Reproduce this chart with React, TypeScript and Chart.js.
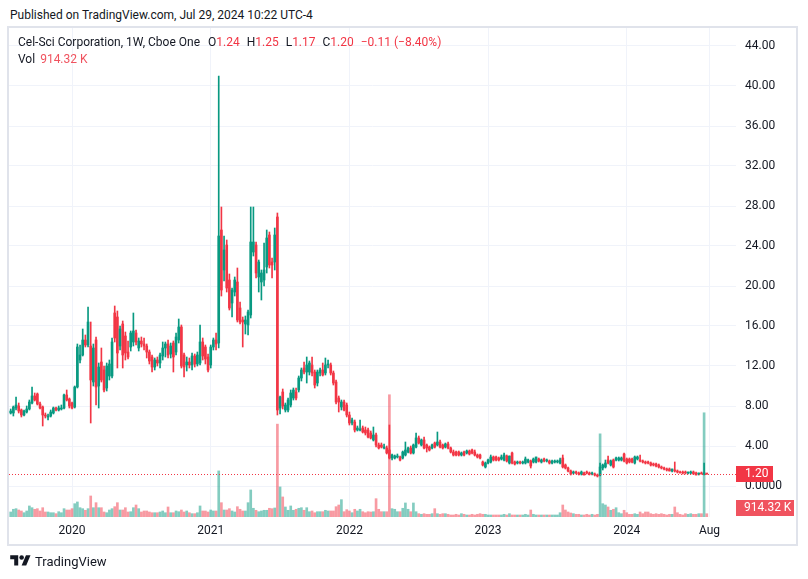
import React, { useEffect, useRef } from "react";
import { Chart, registerables } from "chart.js";

Chart.register(...registerables);

// Weekly bars, first bar = week of 2019-07-29, last bar = week of 2024-07-29
const firstWeek = "2019-07-29";

const opens = [
  7.3, 7.3, 7.8, 8.0, 7.6, 7.1, 7.4, 7.7, 8.3, 9.0,
  9.2, 8.2, 7.9, 7.1, 7.0, 7.0, 7.3, 7.8, 7.6, 7.8,
  7.8, 9.1, 8.7, 8.3, 7.9, 9.9, 12.6, 13.1, 14.6, 14.1,
  14.0, 10.4, 14.6, 10.0, 12.4, 11.6, 9.8, 11.0, 11.0, 17.3,
  16.9, 14.0, 16.2, 15.0, 13.4, 13.9, 14.4, 15.3, 13.8, 14.5,
  14.2, 14.0, 13.4, 12.9, 11.9, 12.6, 12.3, 13.0, 13.8, 14.2,
  13.2, 14.3, 13.4, 14.6, 15.9, 13.1, 12.1, 12.4, 12.1, 13.0,
  12.2, 12.3, 14.4, 13.9, 12.9, 12.1, 13.9, 14.6, 14.3, 25.6,
  21.6, 24.1, 20.6, 18.3, 19.4, 20.4, 17.8, 16.6, 16.2, 16.1,
  17.1, 23.4, 24.1, 20.9, 20.4, 20.6, 21.9, 25.1, 22.4, 22.4,
  26.9, 7.8, 9.4, 7.6, 7.6, 8.1, 8.8, 9.4, 9.6, 10.8,
  11.8, 11.4, 11.4, 12.1, 11.4, 10.3, 11.3, 11.6, 11.3, 12.1,
  12.1, 11.3, 10.4, 8.8, 7.9, 8.4, 8.1, 7.1, 6.3, 6.4,
  5.6, 5.6, 5.8, 5.6, 5.6, 5.3, 4.6, 5.1, 4.1, 4.1,
  3.8, 3.8, 3.6, 2.8, 2.8, 2.9, 2.9, 2.8, 3.1, 3.4,
  3.8, 3.3, 3.9, 4.8, 4.1, 4.6, 4.1, 3.9, 3.8, 4.3,
  4.1, 4.4, 4.1, 3.9, 4.2, 3.8, 3.4, 3.4, 3.4, 3.1,
  3.4, 3.3, 3.5, 3.6, 3.4, 3.1, 3.1, 2.4, 1.9, 2.3,
  2.4, 2.9, 2.9, 2.8, 2.7, 2.6, 3.0, 2.3, 3.3, 2.4,
  2.3, 2.4, 2.3, 2.3, 2.4, 2.5, 2.4, 2.4, 2.7, 2.4,
  2.7, 2.5, 2.5, 2.3, 2.4, 2.4, 2.3, 2.8, 2.1, 1.8,
  1.5, 1.3, 1.4, 1.3, 1.2, 1.3, 1.4, 1.3, 1.2, 1.2,
  1.1, 1.1, 1.8, 1.9, 2.6, 2.1, 2.6, 2.6, 2.6, 2.6,
  3.2, 2.7, 2.7, 2.7, 2.3, 2.7, 2.6, 2.5, 2.4, 2.4,
  2.3, 2.2, 2.2, 2.1, 1.9, 1.8, 1.7, 1.7, 1.5, 1.6,
  1.5, 1.4, 1.4, 1.4, 1.3, 1.3, 1.4, 1.3, 1.2, 1.3,
  1.2, 1.24,
];

const highs = [
  7.7, 8.0, 8.9, 8.3, 7.7, 7.6, 8.0, 8.6, 9.9, 9.3,
  9.3, 8.4, 8.0, 7.3, 7.2, 7.6, 7.9, 7.9, 8.0, 8.1,
  9.2, 9.6, 8.8, 8.4, 10.0, 14.2, 14.1, 15.7, 15.1, 17.9,
  16.4, 14.2, 14.9, 12.3, 13.8, 12.0, 12.3, 12.6, 14.8, 18.0,
  17.5, 16.0, 16.5, 15.4, 14.5, 15.5, 17.3, 15.6, 14.8, 14.9,
  14.8, 14.2, 13.6, 13.1, 12.8, 12.9, 13.3, 14.4, 14.4, 14.6,
  14.3, 14.5, 15.3, 16.7, 16.1, 13.3, 12.9, 12.8, 13.3, 13.2,
  13.4, 16.1, 14.8, 14.1, 13.2, 14.1, 14.8, 15.3, 41.0, 27.9,
  25.0, 24.6, 21.2, 19.8, 20.9, 21.8, 18.4, 16.9, 17.0, 17.6,
  27.9, 27.9, 24.4, 22.6, 21.6, 24.3, 25.6, 25.4, 22.8, 25.8,
  27.3, 9.0, 9.7, 8.3, 8.8, 9.6, 9.8, 9.8, 11.0, 11.8,
  12.4, 12.9, 12.5, 12.9, 11.6, 11.6, 11.8, 12.3, 12.8, 12.6,
  12.3, 11.5, 10.6, 9.0, 8.6, 8.6, 8.3, 7.4, 6.8, 6.6,
  6.0, 6.6, 6.0, 5.9, 5.8, 5.5, 5.9, 5.3, 4.3, 4.3,
  4.2, 4.0, 6.1, 3.2, 3.1, 3.2, 3.0, 3.5, 4.4, 3.9,
  4.0, 4.2, 5.3, 5.0, 4.7, 4.9, 4.2, 4.0, 4.2, 4.4,
  5.4, 4.6, 4.2, 4.3, 4.4, 3.9, 3.6, 3.5, 3.5, 3.4,
  3.5, 3.6, 3.6, 3.7, 3.6, 3.2, 3.2, 2.5, 2.4, 2.7,
  3.1, 3.0, 3.0, 2.9, 3.1, 3.3, 3.1, 3.0, 3.4, 2.5,
  2.5, 2.5, 2.5, 2.9, 2.7, 2.6, 2.8, 2.9, 2.8, 2.7,
  2.8, 2.7, 2.6, 2.6, 2.6, 2.6, 2.8, 3.1, 2.2, 1.9,
  1.6, 1.5, 1.5, 1.4, 1.5, 1.4, 1.5, 1.4, 1.4, 1.3,
  1.2, 2.3, 2.2, 2.6, 3.0, 2.6, 2.7, 2.9, 2.9, 2.9,
  3.3, 2.8, 2.8, 2.8, 3.0, 3.0, 3.1, 2.6, 2.5, 2.5,
  2.4, 2.3, 2.3, 2.2, 2.0, 1.9, 1.8, 1.8, 1.7, 2.4,
  1.6, 1.5, 1.5, 1.5, 1.4, 1.5, 1.5, 1.4, 1.3, 1.4,
  2.3, 1.25,
];

const lows = [
  7.2, 7.0, 7.6, 7.3, 6.9, 7.0, 7.3, 7.6, 8.2, 8.5,
  8.1, 7.7, 6.0, 6.8, 6.6, 6.9, 7.2, 7.5, 7.5, 7.6,
  7.7, 8.5, 7.8, 7.7, 7.8, 9.8, 12.3, 13.0, 13.9, 13.9,
  6.3, 10.0, 8.1, 7.8, 10.4, 9.4, 9.5, 10.6, 10.8, 14.4,
  11.8, 13.6, 11.8, 12.6, 12.7, 13.5, 14.0, 14.1, 13.5, 13.9,
  13.6, 12.8, 12.2, 11.4, 11.6, 12.0, 11.8, 12.6, 12.9, 12.8,
  12.8, 11.4, 13.1, 14.3, 11.8, 10.9, 11.5, 11.8, 11.6, 11.9,
  12.0, 12.1, 12.6, 12.2, 11.4, 11.8, 13.6, 13.6, 13.8, 19.0,
  20.5, 19.4, 17.6, 16.9, 19.0, 16.4, 16.2, 13.9, 15.2, 15.1,
  16.8, 23.0, 20.8, 19.4, 18.6, 20.0, 21.3, 21.8, 20.8, 21.6,
  7.1, 7.2, 7.7, 7.4, 7.4, 7.9, 8.6, 8.6, 9.4, 10.5,
  11.2, 10.3, 11.1, 11.0, 9.8, 10.0, 11.0, 11.0, 11.1, 11.8,
  11.1, 10.1, 8.2, 7.4, 7.6, 7.5, 6.9, 6.1, 6.1, 5.4,
  5.5, 5.5, 5.3, 5.1, 4.8, 4.7, 4.5, 3.9, 3.7, 3.8,
  3.7, 3.2, 2.7, 2.6, 2.7, 2.8, 2.5, 2.7, 3.0, 3.3,
  3.2, 3.2, 3.8, 4.2, 4.0, 3.7, 3.4, 3.5, 3.7, 3.8,
  4.0, 3.8, 3.7, 3.8, 3.7, 3.3, 3.0, 3.0, 3.0, 3.0,
  3.0, 3.2, 3.1, 3.2, 3.0, 2.8, 2.7, 2.0, 1.8, 2.2,
  2.3, 2.5, 2.5, 2.5, 2.6, 2.5, 2.4, 2.2, 2.2, 2.1,
  2.2, 2.2, 2.2, 2.2, 2.3, 1.8, 2.3, 2.3, 2.4, 2.3,
  2.4, 2.4, 2.2, 2.2, 2.3, 2.3, 2.2, 1.8, 1.7, 1.4,
  1.1, 1.2, 1.2, 1.1, 1.1, 1.1, 1.2, 1.1, 1.1, 1.0,
  0.9, 1.0, 1.6, 1.8, 2.2, 2.0, 1.8, 2.5, 2.5, 2.5,
  2.4, 2.2, 2.3, 2.3, 2.2, 2.6, 2.4, 2.3, 2.2, 2.2,
  2.0, 2.0, 1.9, 1.8, 1.7, 1.6, 1.5, 1.5, 1.4, 1.4,
  1.3, 1.3, 1.2, 1.2, 1.2, 1.2, 1.2, 1.1, 1.1, 1.2,
  1.1, 1.17,
];

const closes = [
  7.5, 7.9, 8.1, 7.5, 7.1, 7.5, 7.7, 8.4, 9.0, 8.6,
  8.2, 7.8, 7.1, 7.0, 7.0, 7.4, 7.8, 7.6, 7.8, 7.8,
  9.1, 8.6, 8.0, 7.8, 9.9, 13.9, 13.1, 14.6, 14.1, 16.4,
  10.6, 13.8, 9.9, 11.9, 10.6, 9.6, 12.0, 12.2, 14.4, 14.8,
  13.3, 15.7, 13.1, 13.3, 12.9, 15.3, 15.5, 14.4, 14.5, 14.2,
  14.0, 13.4, 12.5, 11.9, 12.6, 12.3, 13.1, 13.8, 14.2, 13.1,
  14.0, 12.9, 14.9, 15.9, 12.0, 11.9, 12.4, 12.1, 13.0, 12.2,
  13.1, 14.4, 13.0, 12.7, 11.6, 13.9, 14.6, 14.2, 25.0, 19.6,
  23.6, 19.8, 17.8, 19.6, 20.6, 16.6, 16.4, 16.4, 16.6, 17.4,
  24.4, 24.4, 21.3, 22.4, 21.3, 21.6, 24.8, 22.1, 22.1, 25.1,
  7.6, 8.9, 8.0, 8.1, 8.6, 9.3, 9.6, 8.8, 10.8, 11.6,
  11.4, 12.1, 12.3, 11.3, 10.1, 11.4, 11.6, 11.1, 12.1, 12.2,
  11.3, 10.3, 8.4, 8.4, 8.4, 7.6, 7.1, 6.3, 6.6, 5.6,
  5.8, 5.7, 5.4, 5.3, 4.9, 4.8, 5.1, 4.1, 3.8, 3.9,
  3.9, 3.3, 2.8, 3.1, 3.0, 3.0, 2.6, 3.4, 3.6, 3.8,
  3.3, 4.1, 4.8, 4.3, 4.6, 3.8, 3.8, 3.6, 4.1, 3.9,
  4.4, 3.9, 3.8, 4.2, 3.8, 3.4, 3.1, 3.1, 3.1, 3.3,
  3.1, 3.5, 3.2, 3.3, 3.1, 2.9, 2.8, 2.1, 2.3, 2.6,
  2.9, 2.6, 2.6, 2.6, 2.9, 3.1, 2.5, 3.0, 2.3, 2.2,
  2.4, 2.3, 2.4, 2.7, 2.6, 2.0, 2.7, 2.9, 2.5, 2.6,
  2.5, 2.6, 2.3, 2.5, 2.5, 2.5, 2.6, 1.9, 1.8, 1.5,
  1.2, 1.4, 1.3, 1.2, 1.4, 1.1, 1.3, 1.2, 1.3, 1.1,
  1.0, 1.9, 2.1, 2.3, 2.3, 2.5, 1.9, 2.8, 2.8, 2.8,
  2.5, 2.3, 2.4, 2.4, 2.9, 2.9, 2.5, 2.4, 2.3, 2.3,
  2.1, 2.1, 2.0, 1.9, 1.8, 1.7, 1.6, 1.5, 1.7, 1.5,
  1.4, 1.3, 1.3, 1.3, 1.4, 1.4, 1.2, 1.1, 1.3, 1.2,
  1.31, 1.20,
];

// weekly volume, millions of shares
const volumesM = [
  1.39, 2.14, 2.31, 1.94, 1.67, 1.19, 1.67, 3.06, 2.58, 2.14,
  2.31, 1.67, 2.58, 1.39, 1.39, 1.19, 1.19, 0.92, 1.47, 1.19,
  2.31, 1.94, 1.94, 2.31, 3.69, 4.17, 2.58, 2.31, 1.86, 2.31,
  5.83, 2.58, 3.97, 2.58, 2.58, 1.39, 1.19, 1.94, 2.31, 2.86,
  3.97, 1.94, 1.94, 2.58, 1.39, 1.47, 2.58, 3.33, 2.31, 1.39,
  1.67, 1.67, 1.39, 1.19, 1.19, 1.19, 1.39, 1.67, 1.19, 2.78,
  1.19, 1.19, 1.67, 1.47, 1.94, 1.39, 1.67, 1.19, 0.92, 0.92,
  1.19, 3.06, 1.67, 1.67, 1.39, 1.94, 1.67, 1.67, 12.78, 3.97,
  1.94, 1.94, 2.31, 1.67, 1.39, 2.86, 2.14, 1.67, 1.67, 3.97,
  7.5, 2.42, 1.86, 1.47, 1.67, 1.86, 1.86, 2.42, 2.31, 2.5,
  25.75, 8.33, 5.56, 2.78, 1.86, 3.06, 1.86, 2.14, 2.42, 2.58,
  1.86, 2.58, 1.47, 1.67, 1.19, 1.47, 1.47, 1.47, 1.86, 1.67,
  1.67, 1.67, 2.86, 3.33, 4.81, 1.47, 2.03, 1.67, 1.19, 2.14,
  1.67, 2.14, 1.47, 1.19, 1.47, 1.39, 1.47, 5.08, 2.14, 1.47,
  1.47, 1.47, 33.9, 2.31, 2.14, 1.47, 1.47, 2.42, 3.89, 2.14,
  1.47, 3.89, 1.47, 0.92, 0.75, 0.92, 0.75, 0.75, 0.92, 2.31,
  0.92, 0.75, 0.92, 0.92, 0.75, 0.56, 0.56, 0.75, 0.56, 0.92,
  0.75, 0.56, 0.56, 0.75, 0.56, 0.75, 0.92, 0.75, 0.75, 0.56,
  0.56, 0.56, 0.56, 0.56, 0.56, 0.75, 0.56, 0.92, 0.56, 0.56,
  0.56, 0.56, 0.56, 0.75, 0.56, 1.94, 0.75, 0.56, 0.56, 0.56,
  0.56, 0.56, 0.56, 0.56, 0.56, 0.56, 1.19, 3.33, 1.94, 1.39,
  1.11, 0.92, 0.75, 0.75, 0.56, 0.56, 0.75, 0.56, 0.75, 0.56,
  0.75, 23.06, 3.69, 3.33, 2.78, 1.86, 2.14, 2.58, 1.19, 0.92,
  1.86, 1.19, 0.75, 0.75, 0.92, 0.75, 1.39, 0.92, 1.39, 1.39,
  0.92, 0.75, 0.92, 0.75, 0.92, 0.75, 0.56, 0.75, 0.75, 2.78,
  1.19, 0.75, 0.56, 0.92, 0.75, 0.92, 0.75, 0.75, 0.92, 0.92,
  28.9, 0.91,
];

// time axis ticks: bar index of first weekly bar of each year, and "Aug"
const timeTickIndex = [23, 75, 127, 179, 231, 262];
const timeTickLabels = ["2020", "2021", "2022", "2023", "2024", "Aug"];
const priceTicks = [0, 4, 8, 12, 16, 20, 24, 28, 32, 36, 40, 44];

const lastPrice = 1.2;
const lastVolumeLabel = "914.32 K";

const UP = "#089981";
const DOWN = "#F23645";
const UP_VOL = "rgba(8,153,129,0.5)";
const DOWN_VOL = "rgba(242,54,69,0.5)";
const GRID = "#F0F3FA";
const TEXT = "#131722";
const FONT = "Roboto, 'Noto Sans', sans-serif";

export default function App() {
  const canvasRef = useRef<HTMLCanvasElement>(null);

  useEffect(() => {
    const idx = closes.map((_, i) => i);
    const up = idx.map((i) => closes[i] >= opens[i]);

    const overlay = {
      id: "overlay",
      afterDatasetsDraw(chart: any) {
        const { ctx, chartArea } = chart;
        const y = chart.scales.y;
        const py = Math.round(y.getPixelForValue(lastPrice)) + 0.5;
        ctx.save();
        ctx.strokeStyle = DOWN;
        ctx.lineWidth = 1;
        ctx.setLineDash([1, 2]);
        ctx.beginPath();
        ctx.moveTo(chartArea.left, py);
        ctx.lineTo(chartArea.right, py);
        ctx.stroke();
        ctx.restore();
      },
      afterDraw(chart: any) {
        const { ctx, chartArea } = chart;
        const y = chart.scales.y;
        const py = Math.round(y.getPixelForValue(lastPrice));
        ctx.save();
        ctx.fillStyle = DOWN;
        ctx.fillRect(chartArea.right, py - 8, 37, 16);
        ctx.fillStyle = "#ffffff";
        ctx.font = `12px ${FONT}`;
        ctx.textBaseline = "middle";
        ctx.textAlign = "left";
        ctx.fillText(lastPrice.toFixed(2), chartArea.right + 9, py);
        const vy = chartArea.bottom - 9;
        ctx.fillStyle = "#F0535F";
        ctx.fillRect(chartArea.right, vy - 8, 58, 16);
        ctx.fillStyle = "#ffffff";
        ctx.fillText(lastVolumeLabel, chartArea.right + 8, vy);
        ctx.restore();
      },
    };

    const chart = new Chart(canvasRef.current as HTMLCanvasElement, {
      type: "bar",
      data: {
        datasets: [
          {
            label: "Body",
            data: idx.map((i) => ({ x: i, y: [opens[i], closes[i]] })) as any,
            backgroundColor: idx.map((i) => (up[i] ? UP : DOWN)),
            barThickness: 2,
            minBarLength: 1,
            grouped: false,
            borderWidth: 0,
            yAxisID: "y",
            order: 1,
          },
          {
            label: "Wick",
            data: idx.map((i) => ({ x: i, y: [lows[i], highs[i]] })) as any,
            backgroundColor: idx.map((i) => (up[i] ? UP : DOWN)),
            barThickness: 1,
            minBarLength: 1,
            grouped: false,
            borderWidth: 0,
            yAxisID: "y",
            order: 2,
          },
          {
            label: "Volume",
            data: idx.map((i) => ({ x: i, y: volumesM[i] })) as any,
            backgroundColor: idx.map((i) => (up[i] ? UP_VOL : DOWN_VOL)),
            barThickness: 2,
            grouped: false,
            borderWidth: 0,
            yAxisID: "vol",
            order: 3,
          },
        ],
      },
      options: {
        animation: false,
        responsive: false,
        maintainAspectRatio: false,
        devicePixelRatio: 1,
        layout: { padding: { left: 9, top: 28, right: 11, bottom: 34 } },
        plugins: {
          legend: { display: false },
          tooltip: { enabled: false },
        },
        scales: {
          x: {
            type: "linear",
            position: "bottom",
            min: -0.64,
            max: 271.96,
            offset: false,
            grid: { color: GRID, drawTicks: false, offset: false },
            border: { display: false },
            afterBuildTicks: (s: any) => {
              s.ticks = timeTickIndex.map((v) => ({ value: v }));
            },
            afterFit: (s: any) => {
              s.height = 28;
            },
            ticks: {
              autoSkip: false,
              maxRotation: 0,
              padding: 7,
              color: TEXT,
              font: { family: FONT, size: 12 },
              callback: (_v: any, i: number) => timeTickLabels[i],
            },
          },
          y: {
            type: "linear",
            position: "right",
            min: -3.1,
            max: 45.8,
            grid: { color: GRID, drawTicks: false },
            border: { display: false },
            afterBuildTicks: (s: any) => {
              s.ticks = priceTicks.map((v) => ({ value: v }));
            },
            afterFit: (s: any) => {
              s.width = 61;
            },
            ticks: {
              padding: 9,
              color: TEXT,
              font: { family: FONT, size: 12 },
              callback: (v: any) => (v === 0 ? "0.0000" : Number(v).toFixed(2)),
            },
          },
          vol: {
            type: "linear",
            display: false,
            min: 0,
            max: 135.6,
          },
        },
      } as any,
      plugins: [overlay],
    });
    return () => chart.destroy();
  }, []);

  const red = { color: DOWN };
  return (
    <div
      style={{
        position: "absolute",
        left: 0,
        top: 0,
        width: 808,
        height: 579,
        background: "#ffffff",
        overflow: "hidden",
        fontFamily: FONT,
        color: TEXT,
      }}
    >
      <div style={{ position: "absolute", left: 10, top: 7, fontSize: 12, lineHeight: "16px" }}>
        Published on TradingView.com, Jul 29, 2024 10:22 UTC-4
      </div>
      <canvas
        ref={canvasRef}
        width={808}
        height={579}
        style={{ position: "absolute", left: 0, top: 0, width: 808, height: 579 }}
      />
      <div
        style={{
          position: "absolute",
          left: 7,
          top: 26,
          width: 791,
          height: 520,
          boxSizing: "border-box",
          border: "2px solid #E0E3EB",
        }}
      />
      <div style={{ position: "absolute", left: 18, top: 34, fontSize: 12, lineHeight: "17px", whiteSpace: "nowrap" }}>
        <div>
          <span>Cel-Sci Corporation, 1W, Cboe One</span>
          <span style={{ marginLeft: 8 }}>O</span>
          <span style={red}>1.24</span>
          <span style={{ marginLeft: 7 }}>H</span>
          <span style={red}>1.25</span>
          <span style={{ marginLeft: 7 }}>L</span>
          <span style={red}>1.17</span>
          <span style={{ marginLeft: 7 }}>C</span>
          <span style={red}>1.20</span>
          <span style={{ ...red, marginLeft: 7 }}>−0.11 (−8.40%)</span>
        </div>
        <div>
          <span>Vol</span>
          <span style={{ color: "#F0535F", marginLeft: 5 }}>{lastVolumeLabel}</span>
        </div>
      </div>
      <div style={{ position: "absolute", left: 10, top: 553, display: "flex", alignItems: "center" }}>
        <svg width="21" height="16" viewBox="0 0 36 28">
          <path d="M14 22H7V11H0V4h14v18z" fill={TEXT} />
          <circle cx="20" cy="8" r="4" fill={TEXT} />
          <path d="M28 22h-8l7.5-18h8L28 22z" fill={TEXT} />
        </svg>
        <span style={{ fontSize: 13, marginLeft: 4 }}>TradingView</span>
      </div>
    </div>
  );
}
